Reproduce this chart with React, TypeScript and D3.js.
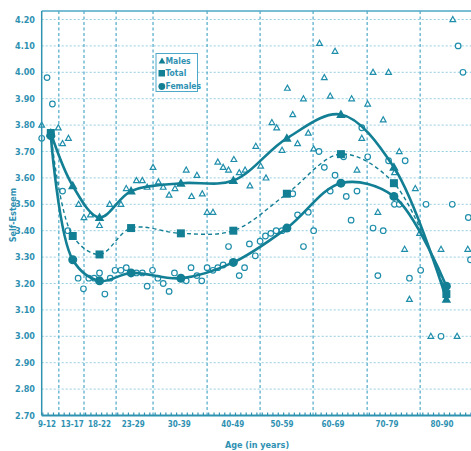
import React from 'react'
import * as d3 from 'd3'

// age-group labels and where they sit on the age axis
const groupLabels = ['9-12', '13-17', '18-22', '23-29', '30-39', '40-49', '50-59', '60-69', '70-79', '80-90']
const labelAges = [9.8, 14.5, 19.6, 25.9, 34.5, 44.5, 53.7, 63.2, 73.3, 83.6]
const gridAges = [12, 16.7, 22.7, 29.6, 39.7, 49.6, 59.5, 69.6, 79.5]
const yTicks = [2.7, 2.8, 2.9, 3.0, 3.1, 3.2, 3.3, 3.4, 3.5, 3.6, 3.7, 3.8, 3.9, 4.0, 4.1, 4.2]

// group means
const meanAges = [10.5, 14.6, 19.6, 25.5, 34.8, 44.6, 54.6, 64.7, 74.6, 84.4]
const males = [3.77, 3.57, 3.45, 3.55, 3.58, 3.59, 3.75, 3.84, 3.64, 3.14]
const total = [3.77, 3.38, 3.31, 3.41, 3.39, 3.40, 3.54, 3.69, 3.58, 3.16]
const females = [3.76, 3.29, 3.21, 3.24, 3.22, 3.28, 3.41, 3.58, 3.53, 3.19]

// single-age observations [age, self-esteem]
const maleObs = [
  [8.8, 3.80], [11.9, 3.79], [12.7, 3.73], [13.8, 3.75], [15.7, 3.50], [16.7, 3.45], [17.9, 3.46],
  [19.6, 3.42], [21.5, 3.50], [23.6, 3.50], [24.6, 3.56], [26.5, 3.59], [27.6, 3.59], [28.5, 3.565],
  [29.6, 3.64], [30.6, 3.585], [31.5, 3.565], [32.6, 3.535], [33.7, 3.56], [35.8, 3.63], [36.8, 3.53],
  [37.8, 3.61], [38.8, 3.54], [39.7, 3.47], [40.8, 3.47], [41.7, 3.66], [42.7, 3.64], [43.7, 3.63],
  [44.7, 3.67], [45.7, 3.62], [46.8, 3.63], [47.7, 3.57], [48.8, 3.72], [49.7, 3.645], [50.7, 3.60],
  [51.8, 3.81], [52.7, 3.79], [53.7, 3.705], [54.7, 3.94], [55.7, 3.84], [56.6, 3.73], [57.7, 3.90],
  [58.6, 3.77], [59.6, 3.71], [60.7, 4.11], [61.6, 3.98], [62.7, 3.91], [63.6, 4.08], [66.7, 3.90],
  [67.7, 3.63], [68.6, 3.75], [69.7, 3.88], [70.7, 4.00], [71.6, 3.47], [72.6, 3.82], [73.6, 4.00],
  [74.7, 3.62], [75.6, 3.70], [76.6, 3.33], [77.5, 3.14], [78.6, 3.56], [79.4, 3.39], [81.5, 3.00],
  [83.4, 3.33], [85.6, 4.20], [86.4, 3.00], [88.4, 3.33]
]
const femaleObs = [
  [9.8, 3.98], [10.8, 3.88], [8.8, 3.75], [12.7, 3.55], [13.7, 3.40], [15.6, 3.22], [16.6, 3.18],
  [17.6, 3.22], [18.6, 3.22], [19.6, 3.24], [20.6, 3.16], [21.6, 3.22], [22.5, 3.25], [23.6, 3.25],
  [24.6, 3.26], [26.5, 3.24], [27.6, 3.24], [28.5, 3.19], [29.5, 3.25], [30.5, 3.22], [31.5, 3.20],
  [32.6, 3.17], [33.6, 3.24], [35.8, 3.21], [36.7, 3.26], [37.8, 3.23], [38.7, 3.21], [39.7, 3.26],
  [40.8, 3.25], [41.7, 3.26], [42.7, 3.27], [43.7, 3.34], [45.7, 3.23], [46.7, 3.26], [47.6, 3.35],
  [48.7, 3.305], [49.6, 3.36], [50.6, 3.38], [51.6, 3.39], [52.6, 3.40], [53.7, 3.40], [55.7, 3.54],
  [56.6, 3.46], [57.7, 3.34], [58.6, 3.47], [59.6, 3.40], [60.6, 3.70], [61.6, 3.64], [62.7, 3.55],
  [63.6, 3.61], [65.2, 3.68], [65.7, 3.53], [66.6, 3.44], [67.7, 3.55], [68.6, 3.79], [69.7, 3.68],
  [70.7, 3.41], [71.6, 3.23], [72.6, 3.40], [73.6, 3.665], [74.7, 3.50], [75.6, 3.50], [76.7, 3.665],
  [77.5, 3.22], [79.6, 3.25], [80.6, 3.50], [83.4, 3.00], [85.5, 3.50], [86.6, 4.10], [87.5, 4.00],
  [88.5, 3.45], [88.9, 3.29]
]

const W = 471
const H = 451
const left = 41.7
const top = 11
const bottom = 415.5

const x = d3.scaleLinear().domain([8.8, 89]).range([left, W])
const y = d3.scaleLinear().domain([2.7, 4.2]).range([bottom, 19.5])

const lineColor = '#137f95'
const textColor = '#2f91b2'
const gridColor = '#7dc4dc'
const font = "'Liberation Sans Narrow', 'DejaVu Sans Condensed', 'Liberation Sans', Arial, sans-serif"

const line = d3
  .line<number>()
  .x((_, i) => x(meanAges[i]))
  .y(d => y(d))
  .curve(d3.curveCatmullRom.alpha(0.5))

const tri = (cx: number, cy: number, s: number) =>
  `M${cx},${cy - s}L${cx + s * 0.95},${cy + s * 0.7}L${cx - s * 0.95},${cy + s * 0.7}Z`

const minorTicks = d3.range(9, 90, 1)

export default function App() {
  return (
    <div style={{ position: 'fixed', left: 0, top: 0 }}>
      <svg width={W} height={H} fontFamily={font} style={{ display: 'block', background: '#fff' }}>
        {/* horizontal grid */}
        {yTicks.slice(1).map(t => (
          <line key={'h' + t} x1={left} x2={W} y1={y(t)} y2={y(t)}
            stroke={gridColor} strokeWidth={1} strokeDasharray="2 2" opacity={0.8} />
        ))}
        {/* vertical grid */}
        {gridAges.map(a => (
          <line key={'v' + a} x1={x(a)} x2={x(a)} y1={top} y2={bottom}
            stroke="#4ea9c9" strokeWidth={1.2} strokeDasharray="3 2.5" />
        ))}

        {/* observations */}
        {maleObs.map((d, i) => (
          <path key={'mo' + i} d={tri(x(d[0]), y(d[1]), 3)} fill="#fff" stroke="#1f8eab" strokeWidth={1.2} />
        ))}
        {femaleObs.map((d, i) => (
          <circle key={'fo' + i} cx={x(d[0])} cy={y(d[1])} r={2.8} fill="#fff" stroke="#1f8eab" strokeWidth={1.2} />
        ))}

        {/* fitted curves */}
        <path d={line(total) || ''} fill="none" stroke={lineColor} strokeWidth={1.4} strokeDasharray="4 3" />
        <path d={line(males) || ''} fill="none" stroke={lineColor} strokeWidth={2.6} />
        <path d={line(females) || ''} fill="none" stroke={lineColor} strokeWidth={2.6} />

        {/* group means */}
        {males.map((v, i) => (
          <path key={'m' + i} d={tri(x(meanAges[i]), y(v), 5)} fill={lineColor} />
        ))}
        {total.map((v, i) => (
          <rect key={'t' + i} x={x(meanAges[i]) - 4} y={y(v) - 4} width={8} height={8} fill={lineColor} />
        ))}
        {females.map((v, i) => (
          <circle key={'f' + i} cx={x(meanAges[i])} cy={y(v)} r={4.5} fill={lineColor} />
        ))}

        {/* frame */}
        <line x1={left} x2={W} y1={top} y2={top} stroke="#4ea9c9" strokeWidth={1.5} />
        <line x1={left} x2={left} y1={top} y2={bottom} stroke="#2f93b0" strokeWidth={1.5} />
        <line x1={left} x2={W} y1={bottom} y2={bottom} stroke="#2f93b0" strokeWidth={2} />
        {minorTicks.map(a => (
          <line key={'mt' + a} x1={x(a)} x2={x(a)} y1={bottom - 3} y2={bottom} stroke="#2f93b0" strokeWidth={1.2} />
        ))}

        {/* y labels */}
        {yTicks.map(t => (
          <text key={'yl' + t} x={35} y={y(t)} dy="0.35em" textAnchor="end" fontSize={9}
            fontWeight="bold" fill={textColor}>{t.toFixed(2)}</text>
        ))}
        {/* x labels */}
        {groupLabels.map((g, i) => (
          <text key={'xl' + g} x={x(labelAges[i])} y={426.5} textAnchor="middle" fontSize={8}
            fontWeight="bold" fill={textColor}>{g}</text>
        ))}
        <text x={257} y={448} textAnchor="middle" fontSize={9} fontWeight="bold" fill={textColor}>Age (in years)</text>
        <text transform={`translate(16,215) rotate(-90)`} textAnchor="middle" fontSize={9}
          fontWeight="bold" fill={textColor}>Self-Esteem</text>

        {/* legend */}
        <g>
          <rect x={156} y={53.5} width={41.5} height={38} fill="#fff" stroke="#4ea9c9" strokeWidth={1} />
          <path d={tri(162, 61, 3.6)} fill={lineColor} />
          <text x={165.5} y={61} dy="0.35em" fontSize={8.5} fontWeight="bold" fill={textColor}>Males</text>
          <rect x={158.5} y={70} width={6.5} height={6.5} fill={lineColor} />
          <text x={165.5} y={73.5} dy="0.35em" fontSize={8.5} fontWeight="bold" fill={textColor}>Total</text>
          <circle cx={161.8} cy={86.5} r={3.4} fill={lineColor} />
          <text x={165.5} y={86.5} dy="0.35em" fontSize={8.5} fontWeight="bold" fill={textColor}>Females</text>
        </g>
      </svg>
    </div>
  )
}
